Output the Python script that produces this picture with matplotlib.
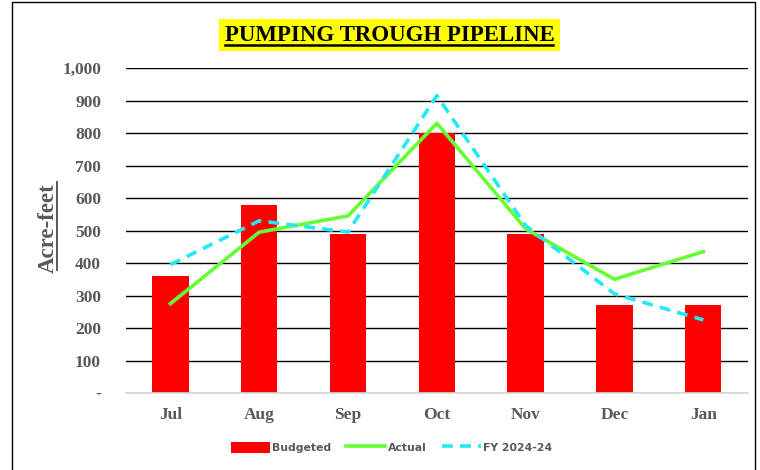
import matplotlib
matplotlib.use("Agg")
import matplotlib.pyplot as plt
from matplotlib.patches import Rectangle
from matplotlib.ticker import FuncFormatter

months = ["Jul", "Aug", "Sep", "Oct", "Nov", "Dec", "Jan"]
budgeted = [360, 580, 490, 800, 490, 270, 270]
actual = [275, 495, 545, 830, 505, 350, 435]
fy_prior = [395, 530, 495, 915, 515, 305, 225]
yticks = [0, 100, 200, 300, 400, 500, 600, 700, 800, 900, 1000]

fig = plt.figure(figsize=(7.6, 4.7), dpi=100)
ax = fig.add_axes([0.1658, 0.1638, 0.818, 0.6915])

x = list(range(len(months)))
serif = "Liberation Serif"
gray = "#595959"

b = ax.bar(x, budgeted, width=0.41, color="#ff0000", zorder=2, label="Budgeted")
l1, = ax.plot(x, actual, color="#66ff33", lw=2.6, zorder=3, label="Actual")
l2, = ax.plot(x, fy_prior, color="#22e8f8", lw=2.6, ls=(0, (3, 2)), zorder=4, label="FY 2024-24")

ax.set_xlim(-0.5, len(months) - 0.5)
ax.set_ylim(0, 1000)
ax.set_yticks(yticks)
ax.yaxis.set_major_formatter(FuncFormatter(lambda v, p: "-" if v == 0 else f"{int(v):,}"))
ax.set_xticks(x)
ax.set_xticklabels(months)
ax.grid(axis="y", color="#000000", lw=1.0, zorder=0)
ax.set_axisbelow(True)
for s in ["top", "right", "left"]:
    ax.spines[s].set_visible(False)
ax.spines["bottom"].set_color("#d9d9d9")
ax.spines["bottom"].set_linewidth(1.2)
ax.tick_params(axis="x", length=0, pad=10)
ax.tick_params(axis="y", length=0, pad=18)
for lab in ax.get_yticklabels() + ax.get_xticklabels():
    lab.set_fontfamily(serif)
    lab.set_fontweight("bold")
    lab.set_color(gray)
for lab in ax.get_yticklabels():
    lab.set_fontsize(12.5)
for lab in ax.get_xticklabels():
    lab.set_fontsize(12.5)

# y-axis label with underline
fig.text(0.063, 0.515, "Acre-feet", rotation=90, ha="center", va="center",
         fontsize=16.5, color=gray, fontfamily=serif, fontweight="bold")
fig.add_artist(plt.Line2D([0.0745, 0.0745], [0.425, 0.612], color=gray, lw=1.4,
                          transform=fig.transFigure))

# title with yellow background and underline
fig.text(0.513, 0.925, "PUMPING TROUGH PIPELINE", ha="center", va="center",
         fontsize=16.5, fontfamily=serif, fontweight="bold", color="black",
         bbox=dict(facecolor="#ffff00", edgecolor="none", pad=4))
fig.add_artist(plt.Line2D([0.296, 0.727], [0.904, 0.904], color="black", lw=1.8,
                          transform=fig.transFigure, zorder=10))

leg = fig.legend([b, l1, l2], ["Budgeted", "Actual", "FY 2024-24"],
                 loc="center", bbox_to_anchor=(0.515, 0.048), ncol=3, frameon=False,
                 prop={"family": "DejaVu Sans", "weight": "bold", "size": 7.8},
                 handlelength=3.6, handleheight=1.3, handletextpad=0.2, columnspacing=1.4)
for t in leg.get_texts():
    t.set_color(gray)

fig.add_artist(Rectangle((0.016, -0.01), 0.978, 1.006, transform=fig.transFigure,
                         fill=False, edgecolor="black", lw=1.0))

fig.savefig("out.png", dpi=100)
